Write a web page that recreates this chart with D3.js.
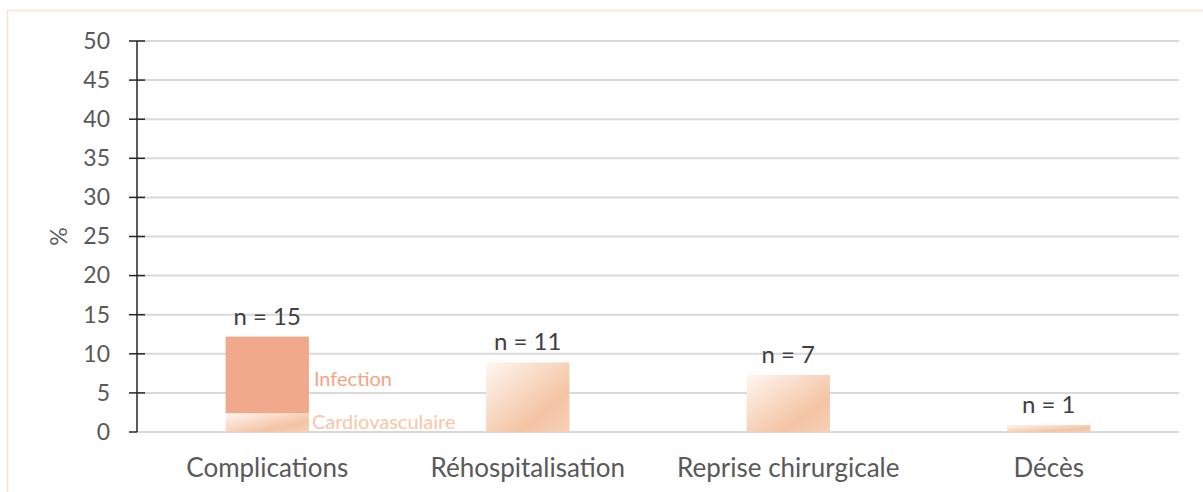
<!DOCTYPE html>
<html>
<head>
<meta charset="utf-8">
<script src="https://cdn.jsdelivr.net/npm/d3@7"></script>
<style>
  body { margin: 0; background: #fff; }
  svg text { font-family: Lato, "Noto Sans", sans-serif; }
</style>
</head>
<body>
<div id="chart"></div>
<script>
const categories = ['Complications', 'Réhospitalisation', 'Reprise chirurgicale', 'Décès'];
const values = [12.2, 8.9, 7.3, 0.9];
const counts = ['n = 15', 'n = 11', 'n = 7', 'n = 1'];
// stacked parts of the first bar
const stackNames = ['Cardiovasculaire', 'Infection'];
const stackValues = [2.4, 9.8];
const yTicks = [0, 5, 10, 15, 20, 25, 30, 35, 40, 45, 50];

const w = 1203;
const h = 492;
const plotLeft = 137, plotRight = 1179, plotTop = 41, plotBottom = 432;

const svg = d3.select('#chart')
  .append('svg')
  .attr('width', w)
  .attr('height', h);

const defs = svg.append('defs');
const grad = defs.append('linearGradient')
  .attr('id', 'barGrad')
  .attr('x1', '0%').attr('y1', '0%')
  .attr('x2', '100%').attr('y2', '100%');
grad.append('stop').attr('offset', '0%').attr('stop-color', '#fef6f0');
grad.append('stop').attr('offset', '70%').attr('stop-color', '#f4c4a4');
grad.append('stop').attr('offset', '100%').attr('stop-color', '#f7d0b6');

// frame
svg.append('path')
  .attr('d', 'M7.5,' + h + ' L7.5,10.5 L' + w + ',10.5')
  .attr('fill', 'none')
  .attr('stroke', '#fbe3d3')
  .attr('stroke-width', 1.5);

const xScale = d3.scaleBand()
  .domain(categories)
  .range([plotLeft, plotRight])
  .paddingInner(0.68)
  .paddingOuter(0.34);

const yScale = d3.scaleLinear()
  .domain([0, 50])
  .range([plotBottom, plotTop]);

// grid
svg.selectAll('line.grid')
  .data(yTicks)
  .enter()
  .append('line')
  .attr('class', 'grid')
  .attr('x1', plotLeft)
  .attr('x2', plotRight)
  .attr('y1', function(d) { return yScale(d); })
  .attr('y2', function(d) { return yScale(d); })
  .attr('stroke', '#d9d9d9')
  .attr('stroke-width', 2);

const yAxis = d3.axisLeft(yScale)
  .tickValues(yTicks)
  .tickSize(0)
  .tickPadding(27);

const gy = svg.append('g')
  .attr('transform', 'translate(' + plotLeft + ',0)')
  .call(yAxis);
gy.select('.domain').remove();
gy.selectAll('text')
  .attr('font-size', '23px')
  .attr('fill', '#595959');

// axis line with cross ticks
svg.append('line')
  .attr('x1', plotLeft).attr('x2', plotLeft)
  .attr('y1', yScale(50)).attr('y2', yScale(0))
  .attr('stroke', '#262626')
  .attr('stroke-width', 1.5);
svg.selectAll('line.tick')
  .data(yTicks)
  .enter()
  .append('line')
  .attr('class', 'tick')
  .attr('x1', plotLeft - 8)
  .attr('x2', function(d) { return d === 0 ? plotLeft : plotLeft + 8; })
  .attr('y1', function(d) { return yScale(d); })
  .attr('y2', function(d) { return yScale(d); })
  .attr('stroke', '#262626')
  .attr('stroke-width', 1.5);

// y title
svg.append('text')
  .attr('transform', 'translate(67,' + yScale(25) + ') rotate(-90)')
  .attr('text-anchor', 'middle')
  .attr('font-size', '23px')
  .attr('fill', '#595959')
  .text('%');

// bars (first bar drawn as a stack)
svg.selectAll('rect.bar')
  .data(categories.slice(1))
  .enter()
  .append('rect')
  .attr('class', 'bar')
  .attr('x', function(d) { return xScale(d); })
  .attr('width', xScale.bandwidth())
  .attr('y', function(d, i) { return yScale(values[i + 1]); })
  .attr('height', function(d, i) { return yScale(0) - yScale(values[i + 1]); })
  .attr('fill', 'url(#barGrad)');

const stackFill = ['url(#barGrad)', '#f0a98a'];
const stackText = ['#f9c6a6', '#f4a486'];
let base = 0;
stackValues.forEach(function(v, i) {
  svg.append('rect')
    .attr('x', xScale(categories[0]))
    .attr('width', xScale.bandwidth())
    .attr('y', yScale(base + v))
    .attr('height', yScale(base) - yScale(base + v))
    .attr('fill', stackFill[i]);
  base += v;
});

svg.append('text')
  .attr('x', xScale(categories[0]) + xScale.bandwidth() + 5)
  .attr('y', 386)
  .attr('font-size', '20px')
  .attr('fill', stackText[1])
  .text(stackNames[1]);
svg.append('text')
  .attr('x', xScale(categories[0]) + xScale.bandwidth() + 3)
  .attr('y', 429)
  .attr('font-size', '20px')
  .attr('fill', stackText[0])
  .text(stackNames[0]);

// count labels
svg.selectAll('text.count')
  .data(counts)
  .enter()
  .append('text')
  .attr('class', 'count')
  .attr('x', function(d, i) { return xScale(categories[i]) + xScale.bandwidth() / 2; })
  .attr('y', function(d, i) { return yScale(values[i]) - 12; })
  .attr('text-anchor', 'middle')
  .attr('font-size', '24px')
  .attr('fill', '#404040')
  .text(function(d) { return d; });

// category labels
svg.selectAll('text.cat')
  .data(categories)
  .enter()
  .append('text')
  .attr('class', 'cat')
  .attr('x', function(d) { return xScale(d) + xScale.bandwidth() / 2; })
  .attr('y', 477)
  .attr('text-anchor', 'middle')
  .attr('font-size', '26px')
  .attr('fill', '#595959')
  .text(function(d) { return d; });
</script>
</body>
</html>
